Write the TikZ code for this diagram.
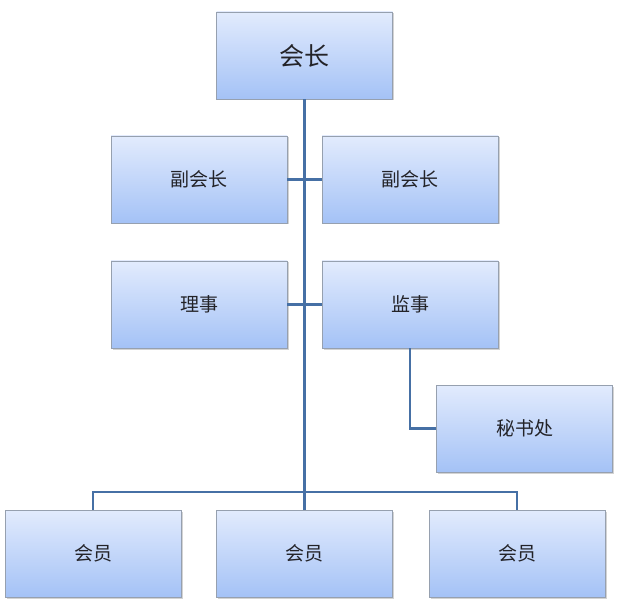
\documentclass[tikz,border=0pt]{standalone}
\usepackage{fontspec}
\setmainfont{Noto Sans CJK SC}
\usetikzlibrary{shadows}
\definecolor{boxtop}{RGB}{226,235,253}
\definecolor{boxbot}{RGB}{164,194,246}
\definecolor{boxline}{RGB}{150,160,175}
\definecolor{conn}{RGB}{70,112,165}
\definecolor{txt}{RGB}{35,35,40}
\tikzset{
  orgbox/.style={draw=boxline, line width=0.8pt, top color=boxtop, bottom color=boxbot,
    minimum width=176pt, minimum height=87pt, inner sep=0pt, text=txt, font=\fontsize{19}{19}\selectfont,
    drop shadow={shadow xshift=1.5pt, shadow yshift=-1.5pt, opacity=0.35, fill=gray}},
  conline/.style={draw=conn, line width=2.6pt}
}
\begin{document}
\begin{tikzpicture}[x=1pt,y=-1pt]
\useasboundingbox (0,0) rectangle (618,609);
\node[orgbox, font=\fontsize{25}{25}\selectfont] (pres) at (304.5,55.5) {会长};
\node[orgbox] (vl) at (199,179.5) {副会长};
\node[orgbox] (vr) at (410,179.5) {副会长};
\node[orgbox] (dir) at (199,304.5) {理事};
\node[orgbox] (sup) at (410,304.5) {监事};
\node[orgbox] (sec) at (524.5,428.5) {秘书处};
\node[orgbox] (m1) at (93,553.5) {会员};
\node[orgbox] (m2) at (304.5,553.5) {会员};
\node[orgbox] (m3) at (517,553.5) {会员};
\coordinate (bus) at (304.5,492);
\draw[conline] (pres.south) -- (bus);
\draw[conline] (vl.east) -- (vr.west);
\draw[conline] (dir.east) -- (sup.west);
\draw[conline] (sup.south) |- (sec.west);
\draw[conline] (m1.north) |- (bus) -| (m3.north);
\draw[conline] (bus) -- (m2.north);
\end{tikzpicture}
\end{document}
